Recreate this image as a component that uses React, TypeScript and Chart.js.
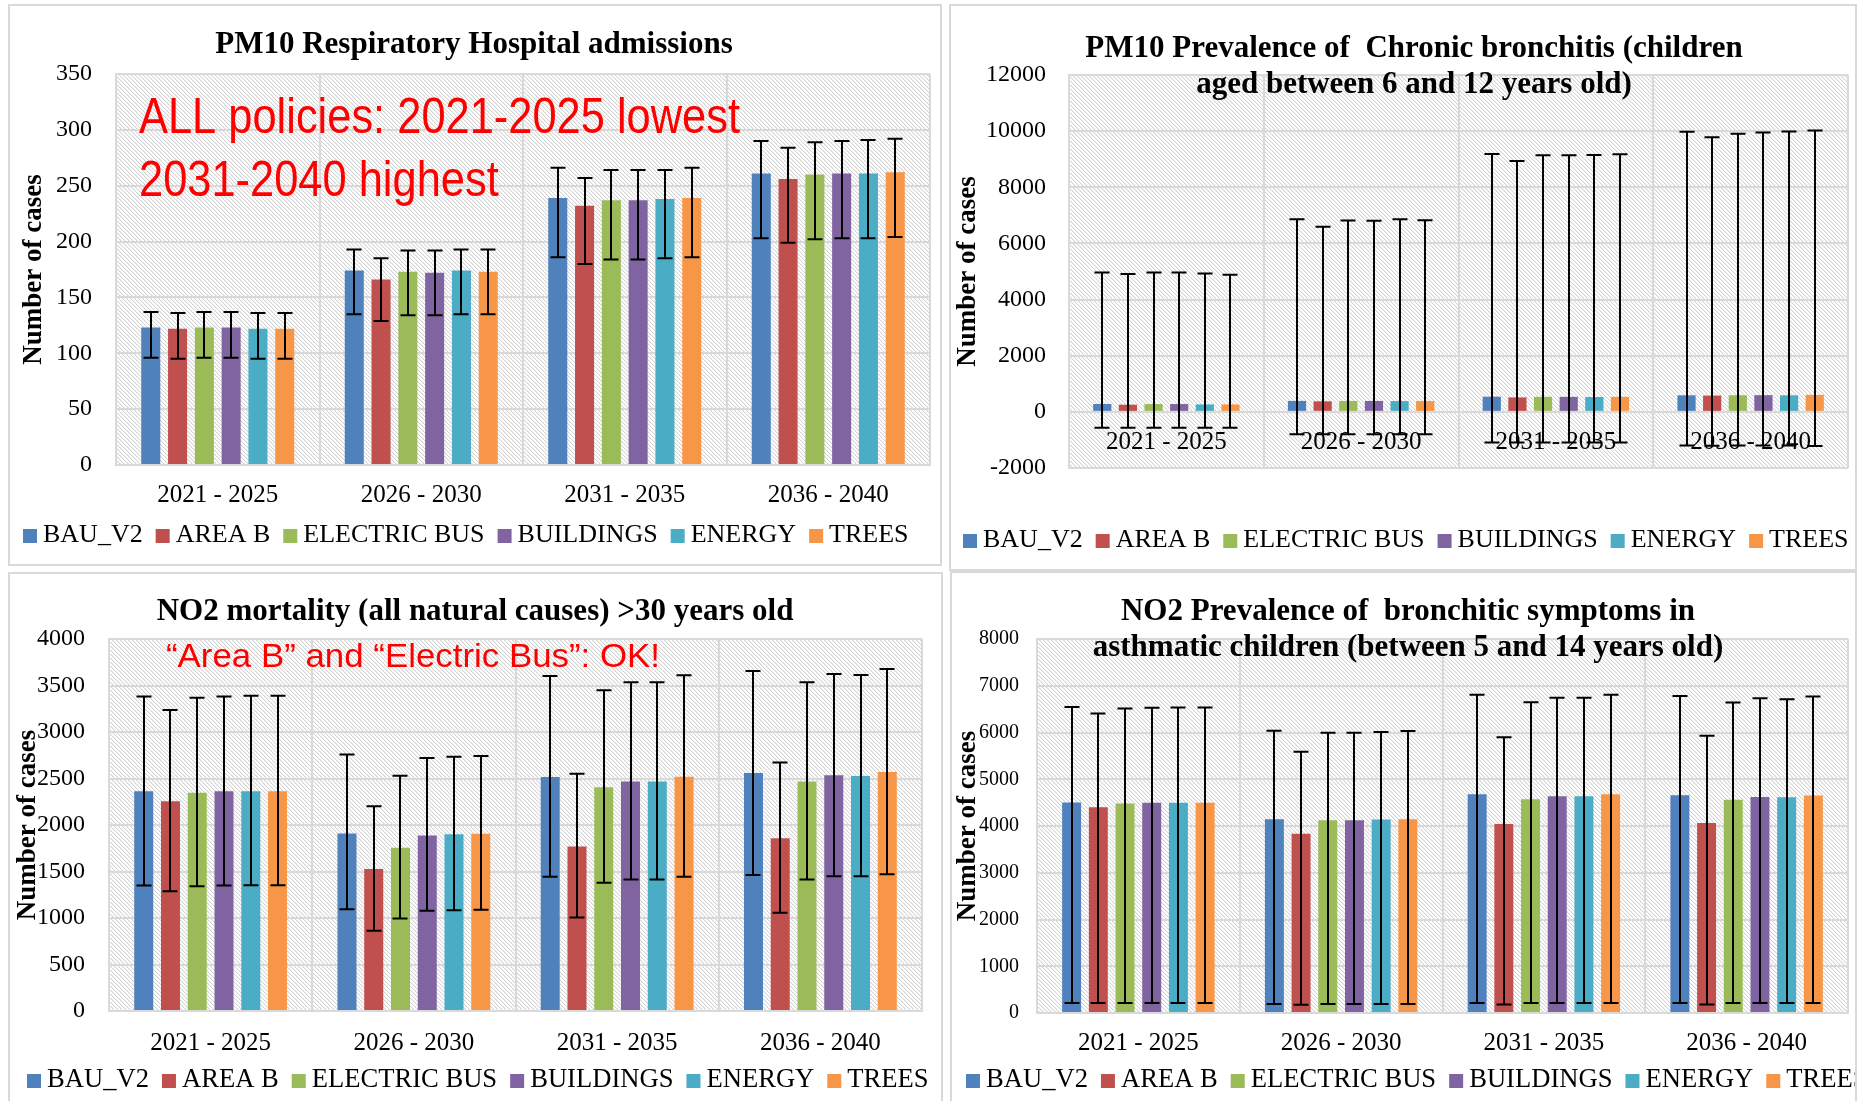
import React, { useEffect, useRef } from 'react';
import { Chart, registerables } from 'chart.js';

Chart.register(...registerables);

const SERIF = '"Liberation Serif", "Times New Roman", serif';
const SANS = '"Liberation Sans", Arial, sans-serif';
const GRID = '#d9d9d9';

// ---------- data ----------
const categories = ['2021 - 2025', '2026 - 2030', '2031 - 2035', '2036 - 2040'];
const seriesNames = ['BAU_V2', 'AREA B', 'ELECTRIC BUS', 'BUILDINGS', 'ENERGY', 'TREES'];
const seriesColors = ['#4F81BD', '#C0504D', '#9BBB59', '#8064A2', '#4BACC6', '#F79646'];

// PM10 Respiratory Hospital admissions (rows = series, cols = periods)
const respMean = [
  [123, 174, 239, 261],
  [122, 166, 232, 256],
  [123, 173, 237, 260],
  [123, 172, 237, 261],
  [122, 174, 238, 261],
  [122, 173, 239, 262],
];
const respHigh = [
  [137, 193, 266, 290],
  [136, 185, 257, 284],
  [137, 192, 264, 289],
  [137, 192, 264, 290],
  [136, 193, 264, 291],
  [136, 193, 266, 292],
];
const respLow = [
  [96, 135, 186, 203],
  [95, 129, 180, 199],
  [96, 134, 184, 202],
  [96, 134, 184, 203],
  [95, 135, 185, 203],
  [95, 135, 186, 204],
];

// PM10 Prevalence of Chronic bronchitis
const cbMean = [
  [280, 390, 540, 590],
  [255, 375, 515, 580],
  [278, 388, 535, 592],
  [278, 388, 535, 595],
  [265, 385, 530, 590],
  [265, 385, 535, 605],
];
const cbHigh = [
  [4960, 6860, 9190, 9980],
  [4910, 6590, 8940, 9780],
  [4960, 6820, 9140, 9910],
  [4960, 6810, 9140, 9950],
  [4930, 6860, 9150, 9990],
  [4880, 6830, 9180, 10020],
];
const cbLow = [
  [-565, -800, -1090, -1200],
  [-565, -795, -1095, -1205],
  [-565, -800, -1090, -1200],
  [-565, -800, -1090, -1200],
  [-565, -797, -1093, -1200],
  [-565, -797, -1093, -1215],
];

// NO2 mortality (all natural causes) >30 years old
const mortMean = [
  [2362, 1909, 2516, 2559],
  [2256, 1528, 1770, 1857],
  [2347, 1755, 2406, 2468],
  [2362, 1887, 2468, 2534],
  [2362, 1901, 2468, 2526],
  [2362, 1905, 2519, 2570],
];
const mortHigh = [
  [3382, 2757, 3601, 3656],
  [3236, 2201, 2552, 2673],
  [3367, 2530, 3448, 3536],
  [3382, 2720, 3536, 3623],
  [3389, 2735, 3536, 3612],
  [3389, 2742, 3609, 3678],
];
const mortLow = [
  [1349, 1093, 1444, 1463],
  [1287, 863, 1005, 1057],
  [1342, 995, 1378, 1415],
  [1349, 1079, 1415, 1448],
  [1353, 1082, 1415, 1448],
  [1353, 1090, 1444, 1470],
];

// NO2 Prevalence of bronchitic symptoms in asthmatic children
const bsMean = [
  [4505, 4146, 4680, 4658],
  [4402, 3832, 4044, 4066],
  [4483, 4124, 4570, 4563],
  [4497, 4124, 4636, 4622],
  [4497, 4139, 4636, 4614],
  [4497, 4146, 4680, 4651],
];
const bsHigh = [
  [6545, 6040, 6808, 6779],
  [6406, 5587, 5901, 5931],
  [6516, 5996, 6647, 6640],
  [6530, 5996, 6742, 6735],
  [6537, 6011, 6742, 6713],
  [6537, 6033, 6808, 6771],
];
const bsLow = [
  [212, 190, 212, 212],
  [212, 175, 183, 183],
  [212, 190, 212, 212],
  [212, 190, 212, 212],
  [212, 190, 212, 212],
  [212, 190, 212, 212],
];

const respTicks = { min: 0, max: 350, step: 50 };
const cbTicks = { min: -2000, max: 12000, step: 2000 };
const mortTicks = { min: 0, max: 4000, step: 500 };
const bsTicks = { min: 0, max: 8000, step: 1000 };

const yAxisTitle = 'Number of cases';
const respTitle = ['PM10 Respiratory Hospital admissions'];
const cbTitle = ['PM10 Prevalence of  Chronic bronchitis (children', 'aged between 6 and 12 years old)'];
const mortTitle = ['NO2 mortality (all natural causes) >30 years old'];
const bsTitle = ['NO2 Prevalence of  bronchitic symptoms in', 'asthmatic children (between 5 and 14 years old)'];
const respNote = ['ALL policies: 2021-2025 lowest', '2031-2040 highest'];
const mortNote = ['\u201CArea B\u201D and \u201CElectric Bus\u201D: OK!'];

// ---------- plugins ----------
let hatchTile: HTMLCanvasElement | null = null;
function getHatchTile() {
  if (hatchTile) return hatchTile;
  const c = document.createElement('canvas');
  c.width = 4;
  c.height = 4;
  const g = c.getContext('2d')!;
  const img = g.createImageData(4, 4);
  for (let y = 0; y < 4; y++) {
    for (let x = 0; x < 4; x++) {
      const d = (((x - y) % 4) + 4) % 4;
      const v = d === 0 ? 212 : d === 1 ? 240 : 255;
      const k = (y * 4 + x) * 4;
      img.data[k] = v;
      img.data[k + 1] = v;
      img.data[k + 2] = v;
      img.data[k + 3] = 255;
    }
  }
  g.putImageData(img, 0, 0);
  hatchTile = c;
  return c;
}

const hatchPlugin = {
  id: 'hatchBg',
  beforeDraw(chart: any) {
    const { ctx, chartArea: a } = chart;
    const pat = ctx.createPattern(getHatchTile(), 'repeat');
    ctx.save();
    ctx.fillStyle = pat;
    ctx.fillRect(a.left, a.top, a.right - a.left, a.bottom - a.top);
    ctx.restore();
  },
};

const errorBarPlugin = {
  id: 'errorBars',
  afterDatasetsDraw(chart: any) {
    const { ctx } = chart;
    const ys = chart.scales.y;
    const half = 7.5;
    ctx.save();
    ctx.strokeStyle = '#000';
    ctx.lineWidth = 2;
    chart.data.datasets.forEach((ds: any, i: number) => {
      const meta = chart.getDatasetMeta(i);
      meta.data.forEach((bar: any, j: number) => {
        const x = Math.round(bar.x);
        const yl = ys.getPixelForValue(ds.errLow[j]);
        const yh = ys.getPixelForValue(ds.errHigh[j]);
        ctx.beginPath();
        ctx.moveTo(x, yl);
        ctx.lineTo(x, yh);
        ctx.moveTo(x - half, yl);
        ctx.lineTo(x + half, yl);
        ctx.moveTo(x - half, yh);
        ctx.lineTo(x + half, yh);
        ctx.stroke();
      });
    });
    ctx.restore();
  },
};

function makeLegend(x0: number, cy: number, size: number) {
  return {
    id: 'panelLegend',
    afterDraw(chart: any) {
      const { ctx } = chart;
      ctx.save();
      ctx.font = `${size}px ${SERIF}`;
      ctx.textBaseline = 'middle';
      ctx.textAlign = 'left';
      let x = x0;
      chart.data.datasets.forEach((ds: any) => {
        ctx.fillStyle = ds.backgroundColor;
        ctx.fillRect(x, cy - 6, 14, 14);
        x += 20;
        ctx.fillStyle = '#000';
        ctx.fillText(ds.label, x, cy);
        x += ctx.measureText(ds.label).width + 13;
      });
      ctx.restore();
    },
  };
}

function makeNote(lines: string[], x: number, baselines: number[], size: number, width: number) {
  return {
    id: 'panelNote',
    afterDraw(chart: any) {
      if (!lines.length) return;
      const { ctx } = chart;
      ctx.save();
      ctx.font = `${size}px ${SANS}`;
      ctx.fillStyle = '#FF0000';
      ctx.textBaseline = 'alphabetic';
      ctx.textAlign = 'left';
      const sx = width / ctx.measureText(lines[0]).width;
      lines.forEach((t, i) => {
        ctx.save();
        ctx.translate(x, baselines[i]);
        ctx.scale(sx, 1);
        ctx.fillText(t, 0, 0);
        ctx.restore();
      });
      ctx.restore();
    },
  };
}

// ---------- panels (layout only) ----------
type Panel = {
  box: { x: number; y: number; w: number; h: number };
  area: { l: number; t: number; r: number; b: number };
  title: string[];
  titleSize: number;
  titleLH: number;
  titleCY: number;
  titleCX: number;
  yTitleX: number;
  ticks: { min: number; max: number; step: number };
  yTickSize: number;
  yTickPad: number;
  xTickPad: number;
  xAtZero: boolean;
  mean: number[][];
  low: number[][];
  high: number[][];
  legend: { x: number; cy: number; size: number };
  note: { lines: string[]; x: number; baselines: number[]; size: number; width: number };
};

const panels: Panel[] = [
  {
    box: { x: 8, y: 4, w: 934, h: 562 },
    area: { l: 108, t: 70, r: 922, b: 461 },
    title: respTitle, titleSize: 31, titleLH: 37, titleCY: 41, titleCX: 466,
    yTitleX: 26, ticks: respTicks, yTickSize: 24, yTickPad: 24, xTickPad: 15, xAtZero: false,
    mean: respMean, low: respLow, high: respHigh,
    legend: { x: 15, cy: 531, size: 26 },
    note: { lines: respNote, x: 131, baselines: [129, 192], size: 50, width: 601 },
  },
  {
    box: { x: 949, y: 4, w: 908, h: 567 },
    area: { l: 120, t: 71, r: 899, b: 464 },
    title: cbTitle, titleSize: 31, titleLH: 36, titleCY: 45, titleCX: 465,
    yTitleX: 19, ticks: cbTicks, yTickSize: 24, yTickPad: 23, xTickPad: 16, xAtZero: true,
    mean: cbMean, low: cbLow, high: cbHigh,
    legend: { x: 14, cy: 536, size: 26 },
    note: { lines: [], x: 0, baselines: [], size: 10, width: 1 },
  },
  {
    box: { x: 8, y: 572, w: 935, h: 540 },
    area: { l: 101, t: 67, r: 914, b: 439 },
    title: mortTitle, titleSize: 31, titleLH: 37, titleCY: 40, titleCX: 467,
    yTitleX: 20, ticks: mortTicks, yTickSize: 24, yTickPad: 24, xTickPad: 17, xAtZero: false,
    mean: mortMean, low: mortLow, high: mortHigh,
    legend: { x: 19, cy: 508, size: 26.6 },
    note: { lines: mortNote, x: 158, baselines: [95], size: 34, width: 494 },
  },
  {
    box: { x: 950, y: 571, w: 907, h: 540 },
    area: { l: 87, t: 68, r: 898, b: 442 },
    title: bsTitle, titleSize: 31, titleLH: 36, titleCY: 41, titleCX: 458,
    yTitleX: 18, ticks: bsTicks, yTickSize: 20, yTickPad: 18, xTickPad: 15, xAtZero: false,
    mean: bsMean, low: bsLow, high: bsHigh,
    legend: { x: 16, cy: 509, size: 26.6 },
    note: { lines: [], x: 0, baselines: [], size: 10, width: 1 },
  },
];

function buildConfig(p: Panel): any {
  const W = p.box.w;
  const H = p.box.h;
  const X_AXIS_H = 60;
  const padR = W - p.area.r;
  const padL = Math.max(0, 2 * p.titleCX - W + padR);
  const padB = p.xAtZero ? H - p.area.b : H - p.area.b - X_AXIS_H;
  const yAxisW = p.area.l - padL;
  const titlePadTop = p.titleCY - p.titleLH / 2;
  const titlePadBottom = p.area.t - p.titleLH * p.title.length - titlePadTop;
  const yTitleSize = 27;
  const yTitleLH = yTitleSize * 1.2;
  const yTitlePadTop = p.yTitleX - padL - yTitleLH / 2;

  const datasets = seriesNames.map((name, i) => ({
    label: name,
    data: p.mean[i],
    errLow: p.low[i],
    errHigh: p.high[i],
    backgroundColor: seriesColors[i],
    borderWidth: 0,
    categoryPercentage: 0.79,
    barPercentage: 0.71,
  }));

  return {
    type: 'bar',
    data: { labels: categories, datasets },
    options: {
      responsive: false,
      animation: false,
      devicePixelRatio: 1,
      events: [],
      layout: { padding: { left: padL, right: padR, top: 0, bottom: padB } },
      plugins: {
        legend: { display: false },
        tooltip: { enabled: false },
        title: {
          display: true,
          text: p.title,
          color: '#000',
          font: { family: SERIF, size: p.titleSize, weight: 'bold', lineHeight: p.titleLH / p.titleSize },
          padding: { top: titlePadTop, bottom: titlePadBottom },
        },
      },
      scales: {
        x: {
          position: p.xAtZero ? { y: 0 } : 'bottom',
          offset: true,
          grid: { offset: true, color: GRID, lineWidth: 2, drawTicks: false },
          border: { display: true, color: GRID, width: 2 },
          ticks: {
            color: '#000',
            font: { family: SERIF, size: 25 },
            padding: p.xTickPad,
            maxRotation: 0,
            autoSkip: false,
          },
          afterFit: (s: any) => {
            s.height = X_AXIS_H;
          },
        },
        y: {
          min: p.ticks.min,
          max: p.ticks.max,
          grid: { color: GRID, lineWidth: 2, drawTicks: false },
          border: { display: true, color: GRID, width: 2 },
          ticks: {
            stepSize: p.ticks.step,
            color: '#000',
            font: { family: SERIF, size: p.yTickSize },
            padding: p.yTickPad,
            callback: (v: any) => String(v),
          },
          title: {
            display: true,
            text: yAxisTitle,
            color: '#000',
            font: { family: SERIF, size: yTitleSize, weight: 'bold' },
            padding: { top: yTitlePadTop, bottom: 0 },
          },
          afterFit: (s: any) => {
            s.width = yAxisW;
          },
        },
      },
    },
    plugins: [
      hatchPlugin,
      errorBarPlugin,
      makeLegend(p.legend.x, p.legend.cy, p.legend.size),
      makeNote(p.note.lines, p.note.x, p.note.baselines, p.note.size, p.note.width),
    ],
  };
}

function ChartPanel({ p }: { p: Panel }) {
  const ref = useRef<HTMLCanvasElement | null>(null);
  useEffect(() => {
    if (!ref.current) return;
    const chart = new Chart(ref.current, buildConfig(p));
    return () => chart.destroy();
  }, [p]);
  return (
    <div
      style={{
        position: 'absolute',
        left: p.box.x,
        top: p.box.y,
        width: p.box.w,
        height: p.box.h,
        overflow: 'hidden',
        background: '#fff',
      }}
    >
      <canvas
        ref={ref}
        width={p.box.w}
        height={p.box.h}
        style={{ position: 'absolute', left: 0, top: 0, width: p.box.w, height: p.box.h }}
      />
      <div
        style={{
          position: 'absolute',
          left: 0,
          top: 0,
          width: p.box.w,
          height: p.box.h,
          border: '2px solid #d9d9d9',
          boxSizing: 'border-box',
          pointerEvents: 'none',
        }}
      />
    </div>
  );
}

export default function App() {
  return (
    <div
      style={{
        position: 'absolute',
        left: 0,
        top: 0,
        width: 1857,
        height: 1101,
        overflow: 'hidden',
        background: '#fff',
      }}
    >
      {panels.map((p, i) => (
        <ChartPanel key={i} p={p} />
      ))}
    </div>
  );
}
